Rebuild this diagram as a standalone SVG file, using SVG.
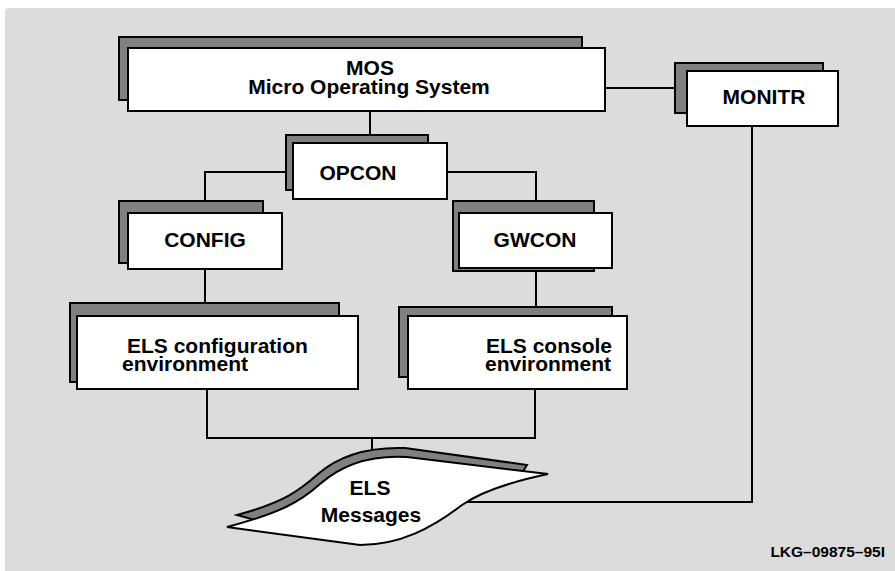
<svg xmlns="http://www.w3.org/2000/svg" width="895" height="571" viewBox="0 0 895 571">
  <style>
    .shadow { fill: #808080; stroke: #000; stroke-width: 2; }
    .box { fill: #fff; stroke: #000; stroke-width: 2; }
    .wire { fill: none; stroke: #000; stroke-width: 2; }
    text { font-family: "Liberation Sans", Arial, sans-serif; font-weight: bold; font-size: 21px; fill: #000; }
    .mid { text-anchor: middle; }
    .tag { font-size: 15.5px; text-anchor: end; }
  </style>

  <!-- backdrop panel -->
  <path d="M5,12 Q5,8 9,8 L895,8 L895,571 L5,571 Z" fill="#dcdcdc"/>

  <!-- connectors -->
  <g id="connectors">
    <polyline class="wire" points="605,88 675,88"/>
    <polyline class="wire" points="370,111 370,135"/>
    <polyline class="wire" points="286,172 205,172 205,201"/>
    <polyline class="wire" points="447,172 536,172 536,201"/>
    <polyline class="wire" points="205,269 205,303"/>
    <polyline class="wire" points="536,268 536,307"/>
    <polyline class="wire" points="207,389 207,438 535,438 535,389"/>
    <polyline class="wire" points="372,438 372,455"/>
    <polyline class="wire" points="752,126 752,502 463,502"/>
  </g>

  <g id="mos">
    <rect class="shadow" x="119" y="37" width="463" height="63"/>
    <rect class="box" x="128" y="48" width="477" height="63"/>
    <text class="mid" x="370" y="75">MOS</text>
    <text class="mid" x="369" y="94">Micro Operating System</text>
  </g>

  <g id="monitr">
    <rect class="shadow" x="675" y="63" width="148" height="50"/>
    <rect class="box" x="687" y="71" width="151" height="55"/>
    <text class="mid" x="764" y="104">MONITR</text>
  </g>

  <g id="opcon">
    <rect class="shadow" x="286" y="135" width="142" height="55"/>
    <rect class="box" x="293" y="143" width="154" height="56"/>
    <text class="mid" x="358" y="180">OPCON</text>
  </g>

  <g id="config">
    <rect class="shadow" x="119" y="201" width="144" height="62"/>
    <rect class="box" x="128" y="213" width="154" height="56"/>
    <text class="mid" x="205" y="247">CONFIG</text>
  </g>

  <g id="gwcon">
    <rect class="shadow" x="453" y="201" width="141" height="70"/>
    <rect class="box" x="459" y="213" width="153" height="55"/>
    <text class="mid" x="535" y="247">GWCON</text>
  </g>

  <g id="els-config">
    <rect class="shadow" x="70" y="303" width="269" height="79"/>
    <rect class="box" x="77" y="316" width="281" height="73"/>
    <text x="127" y="353">ELS configuration</text>
    <text x="122" y="371">environment</text>
  </g>

  <g id="els-console">
    <rect class="shadow" x="399" y="307" width="213" height="70"/>
    <rect class="box" x="408" y="316" width="219" height="73"/>
    <text class="mid" x="549" y="353">ELS console</text>
    <text class="mid" x="548" y="371">environment</text>
  </g>

  <g id="els-messages">
    <path class="shadow" d="M237,515 C285,502 300,490 318,474 C343,452 375,447 405,448 L527,465 L520,476 L400,466 L330,495 L262,522 Z"/>
    <path class="box" d="M227,527 C280,513 300,502 320,484 C345,462 375,455 407,457 L548,474 C510,482 482,491 462,505 C432,528 400,545 360,545 Z"/>
    <text class="mid" x="370" y="495">ELS</text>
    <text class="mid" x="371" y="522">Messages</text>
  </g>

  <text class="tag" x="885" y="557">LKG–09875–95I</text>
</svg>
